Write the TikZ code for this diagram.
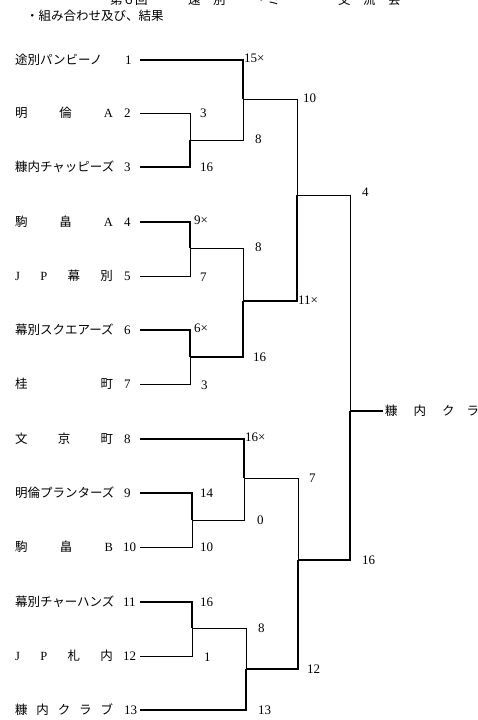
\documentclass[tikz,border=0pt]{standalone}
\usepackage{fontspec}
\setmainfont{Liberation Serif}
\newfontfamily\jp{Noto Sans CJK JP}
\newcommand\tnm[1]{{\jp #1}}
\newcommand\spread[1]{\hbox to 98pt{#1}}
\begin{document}
\begin{tikzpicture}[x=1pt,y=-1pt,
  every node/.style={inner sep=0pt,outer sep=0pt},
  tname/.style={anchor=west,text height=8.5pt,text depth=0pt,font=\fontsize{12.5}{14}\selectfont\jp},
  lbl/.style={anchor=west,text height=9pt,text depth=0pt,font=\fontsize{13}{15}\selectfont},
  lnthin/.style={line width=0.9pt,line join=miter},
  lnthick/.style={line width=2.4pt,line join=miter}]
\useasboundingbox (0,0) rectangle (478,720);
% header (cut off at top, as in the scan)
\node[tname] (h1) at (110,0.5) {第６回};
\node[tname] (h2) at (188,0.5) {遠　別};
\node[tname] (h3) at (255,0.5) {・ミー};
\node[tname] (h4) at (338,0.5) {交　流　会};
\node[tname,font=\fontsize{12.5}{14}\selectfont\jp] (title) at (26,16) {・組み合わせ及び、結果};
% team names
\node[tname] (N1) at (15,60) {途別パンビーノ};
\node[tname] (N2) at (15,113) {\spread{明\hfill 倫\hfill \textrm{A}}};
\node[tname] (N3) at (15,167) {糠内チャッピーズ};
\node[tname] (N4) at (15,222) {\spread{駒\hfill 畠\hfill \textrm{A}}};
\node[tname] (N5) at (15,276) {\spread{\textrm{J}\hfill \textrm{P}\hfill 幕\hfill 別}};
\node[tname] (N6) at (15,330) {幕別スクエアーズ};
\node[tname] (N7) at (15,384) {\spread{桂\hfill 町}};
\node[tname] (N8) at (15,439) {\spread{文\hfill 京\hfill 町}};
\node[tname] (N9) at (15,493) {明倫プランターズ};
\node[tname] (N10) at (15,547) {\spread{駒\hfill 畠\hfill \textrm{B}}};
\node[tname] (N11) at (15,602) {幕別チャーハンズ};
\node[tname] (N12) at (15,656) {\spread{\textrm{J}\hfill \textrm{P}\hfill 札\hfill 内}};
\node[tname] (N13) at (15,710) {\spread{糠\hfill 内\hfill ク\hfill ラ\hfill ブ}};
% numbers
\node[lbl] (K1) at (125,60) {1};
\node[lbl] (K2) at (124,113) {2};
\node[lbl] (K3) at (124,167) {3};
\node[lbl] (K4) at (124,222) {4};
\node[lbl] (K5) at (124,276) {5};
\node[lbl] (K6) at (124,330) {6};
\node[lbl] (K7) at (124,384) {7};
\node[lbl] (K8) at (124,439) {8};
\node[lbl] (K9) at (124,493) {9};
\node[lbl] (K10) at (123,547) {10};
\node[lbl] (K11) at (123,602) {11};
\node[lbl] (K12) at (123,656) {12};
\node[lbl] (K13) at (124,710) {13};
% line starts
\foreach \i/\y in {1/60,2/113,3/167,4/222,5/276,6/330,7/384,8/439,9/493,10/547,11/602,12/656,13/710}
  \coordinate (s\i) at (140,\y);
% round 1
\coordinate (c2) at (190,113); \coordinate (c3) at (190,167); \coordinate (m23) at (190,140);
\coordinate (c4) at (190,222); \coordinate (c5) at (190,276); \coordinate (m45) at (190,248);
\coordinate (c6) at (190,330); \coordinate (c7) at (190,384); \coordinate (m67) at (190,357);
\coordinate (c9) at (192,493); \coordinate (c10) at (192,547); \coordinate (m910) at (192,520);
\coordinate (c11) at (192,602); \coordinate (c12) at (192,656); \coordinate (m1112) at (192,628);
% round 2
\coordinate (a1) at (243,60); \coordinate (a23) at (243,140); \coordinate (r1) at (243,99);
\coordinate (a45) at (243,248); \coordinate (a67) at (243,357); \coordinate (r2) at (243,301);
\coordinate (a8) at (244,439); \coordinate (a910) at (244,520); \coordinate (r3) at (244,478);
\coordinate (a1112) at (246,628); \coordinate (a13) at (246,710); \coordinate (r4) at (246,669);
% round 3
\coordinate (b1) at (297,99); \coordinate (b2) at (297,301); \coordinate (q1) at (297,195);
\coordinate (b3) at (298,478); \coordinate (b4) at (298,669); \coordinate (q2) at (298,560);
% round 4
\coordinate (d1) at (350,195); \coordinate (d2) at (350,560); \coordinate (fj) at (350,411);
\coordinate (fe) at (383,411);
% thin lines
\draw[lnthin] (s2) -- (c2) -- (m23);
\draw[lnthin] (m23) -- (a23) -- (r1);
\draw[lnthin] (s5) -- (c5) -- (m45);
\draw[lnthin] (m45) -- (a45) -- (r2);
\draw[lnthin] (s7) -- (c7) -- (m67);
\draw[lnthin] (r1) -- (b1) -- (q1);
\draw[lnthin] (q1) -- (d1) -- (fj);
\draw[lnthin] (s10) -- (c10) -- (m910);
\draw[lnthin] (m910) -- (a910) -- (r3);
\draw[lnthin] (s12) -- (c12) -- (m1112);
\draw[lnthin] (m1112) -- (a1112) -- (r4);
\draw[lnthin] (r3) -- (b3) -- (q2);
% thick lines
\draw[lnthick] (s1) -- (a1) -- (r1);
\draw[lnthick] (s3) -- (c3) -- (m23);
\draw[lnthick] (s4) -- (c4) -- (m45);
\draw[lnthick] (s6) -- (c6) -- (m67);
\draw[lnthick] (m67) -- (a67) -- (r2);
\draw[lnthick] (r2) -- (b2) -- (q1);
\draw[lnthick] (s8) -- (a8) -- (r3);
\draw[lnthick] (s9) -- (c9) -- (m910);
\draw[lnthick] (s11) -- (c11) -- (m1112);
\draw[lnthick] (s13) -- (a13) -- (r4);
\draw[lnthick] (r4) -- (b4) -- (q2);
\draw[lnthick] (q2) -- (d2) -- (fj);
\draw[lnthick] (fj) -- (fe);
% winner
\node[tname] (W) at (385,411) {糠\hspace{16pt}内\hspace{16pt}ク\hspace{12pt}ラ};
% scores round 1
\node[lbl] (p2) at (200,113) {3};
\node[lbl] (p3) at (200,167) {16};
\node[lbl] (p4) at (194,220) {9×};
\node[lbl] (p5) at (200,277) {7};
\node[lbl] (p6) at (194,328) {6×};
\node[lbl] (p7) at (201,385) {3};
\node[lbl] (p9) at (200,493) {14};
\node[lbl] (p10) at (200,547) {10};
\node[lbl] (p11) at (200,602) {16};
\node[lbl] (p12) at (204,657) {1};
% scores round 2
\node[lbl] (q1l) at (244,58) {15×};
\node[lbl] (q23) at (255,139) {8};
\node[lbl] (q45) at (255,247) {8};
\node[lbl] (q67) at (253,357) {16};
\node[lbl] (q8) at (245,437) {16×};
\node[lbl] (q910) at (257,520) {0};
\node[lbl] (q1112) at (258,628) {8};
\node[lbl] (q13) at (258,710) {13};
% scores round 3
\node[lbl] (t1) at (303,98) {10};
\node[lbl] (t2) at (298,300) {11×};
\node[lbl] (t3) at (309,478) {7};
\node[lbl] (t4) at (307,669) {12};
% scores round 4
\node[lbl] (u1) at (362,192) {4};
\node[lbl] (u2) at (362,560) {16};
\end{tikzpicture}
\end{document}
